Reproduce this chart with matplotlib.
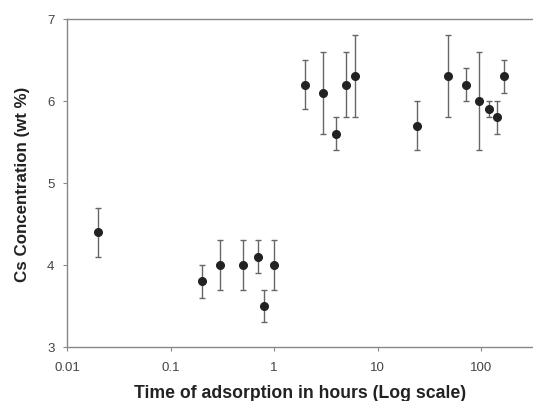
import numpy as np
import matplotlib.pyplot as plt

plt.rcParams['font.family'] = ['Liberation Sans', 'DejaVu Sans']

# Adsorption time (hours) and Cs concentration with error
hours = [0.02, 0.2, 0.3, 0.5, 0.7, 0.8, 1, 2, 3, 4, 5, 6, 24, 48, 72, 96, 120, 144, 168]
cs_wt = [4.4, 3.8, 4.0, 4.0, 4.1, 3.5, 4.0, 6.2, 6.1, 5.6, 6.2, 6.3, 5.7, 6.3, 6.2, 6.0, 5.9, 5.8, 6.3]
cs_err = [0.3, 0.2, 0.3, 0.3, 0.2, 0.2, 0.3, 0.3, 0.5, 0.2, 0.4, 0.5, 0.3, 0.5, 0.2, 0.6, 0.1, 0.2, 0.2]

xticks = [0.01, 0.1, 1, 10, 100]
xticklabels = ["0.01", "0.1", "1", "10", "100"]
yticks = [3, 4, 5, 6, 7]

fig = plt.figure(figsize=(5.33, 4.02), dpi=100)
ax = fig.add_axes([67/533, 54/402, 1 - 67/533, 328/402])

ax.errorbar(hours, cs_wt, yerr=cs_err, fmt='o', color='#222222', ms=5.5,
            ecolor='#666666', elinewidth=1, capsize=2.5, capthick=1)

ax.set_xscale('log')
ax.set_xlim(0.01, 10**(2 + 52/103.6))
ax.set_ylim(3, 7)
ax.set_xticks(xticks)
ax.set_xticklabels(xticklabels)
ax.set_yticks(yticks)
ax.minorticks_off()

for s in ['left', 'bottom', 'top']:
    ax.spines[s].set_color('#888888')
    ax.spines[s].set_linewidth(1)
ax.spines['right'].set_visible(False)
ax.tick_params(axis='both', length=3, color='#888888', labelsize=9.5,
               labelcolor='#444444')
ax.tick_params(axis='x', pad=7)
ax.tick_params(axis='y', pad=6)

ax.set_xlabel("Time of adsorption in hours (Log scale)", fontsize=12.7,
              fontweight='bold', color='#222222', labelpad=8)
ax.set_ylabel("Cs Concentration (wt %)", fontsize=12.2,
              fontweight='bold', color='#222222', labelpad=12)

fig.savefig("out.png", dpi=100)
